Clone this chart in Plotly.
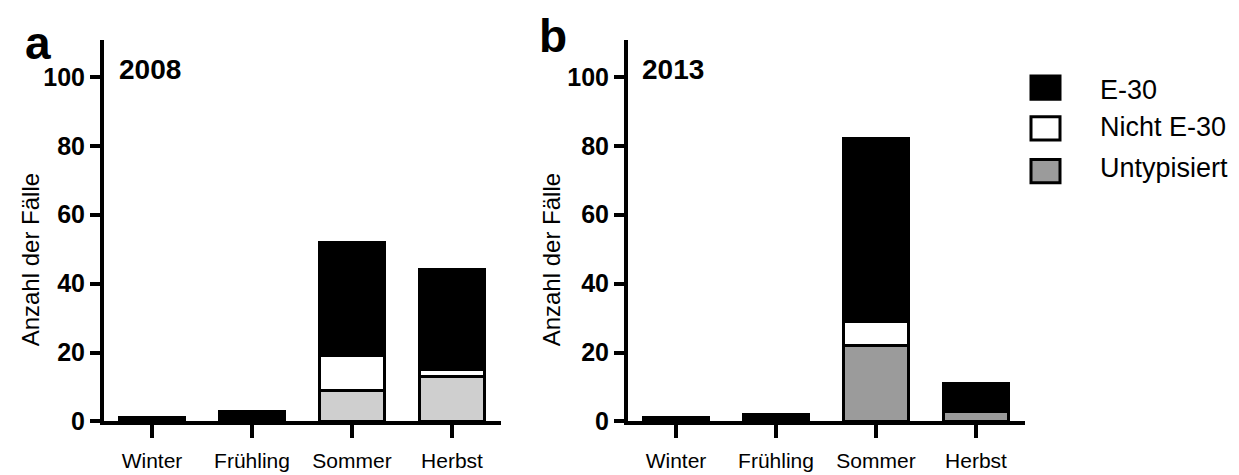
import plotly.graph_objects as go

# ---------------- data ----------------
seasons = ["Winter", "Frühling", "Sommer", "Herbst"]
series_names = ["E-30", "Nicht E-30", "Untypisiert"]

e30_2008 = [1, 3, 33, 29]
nicht_2008 = [0, 0, 10, 2]
untyp_2008 = [0, 0, 9, 13]

e30_2013 = [1, 2, 53, 8]
nicht_2013 = [0, 0, 7, 0]
untyp_2013 = [0, 0, 22, 3]

y_ticks = [0, 20, 40, 60, 80, 100]
panel_labels = ["a", "b"]
years = ["2008", "2013"]

# ---------------- style ----------------
W, H = 1239, 475
BOLD = "Liberation Sans, Arial, sans-serif"
REG = "Liberation Sans, Arial, sans-serif"
col_e30 = "#000000"
col_nicht = "#ffffff"
col_untyp_a = "#cfcfcf"
col_untyp_b = "#9b9b9b"


def px(x):
    return x / W


def py(y):
    return 1 - y / H


fig = go.Figure()

panels = [
    ("x", "y", untyp_2008, nicht_2008, e30_2008, col_untyp_a),
    ("x2", "y2", untyp_2013, nicht_2013, e30_2013, col_untyp_b),
]
for xa, ya, u, n, e, gcol in panels:
    for name, vals, col in [("Untypisiert", u, gcol), ("Nicht E-30", n, col_nicht), ("E-30", e, col_e30)]:
        fig.add_trace(go.Bar(
            x=seasons, y=vals, name=name, xaxis=xa, yaxis=ya,
            marker=dict(color=col, line=dict(color="black", width=3)),
            showlegend=False,
        ))

axis_common = dict(showgrid=False, zeroline=False, showline=True, linecolor="black",
                   linewidth=4, ticks="outside", tickcolor="black", tickwidth=4)

xfont = dict(family=REG, size=21, color="black")
yfont = dict(family=BOLD, size=25, color="black", weight="bold")
ydom = [py(426), py(33)]
fig.update_layout(
    width=W, height=H,
    margin=dict(l=0, r=0, t=0, b=0),
    paper_bgcolor="white", plot_bgcolor="white",
    barmode="stack", bargap=0.35,
    showlegend=False,
    xaxis=dict(domain=[px(96), px(493)], range=[-0.48, 3.49], anchor="y",
               ticklen=13, tickfont=xfont, ticklabelstandoff=4, **axis_common),
    xaxis2=dict(domain=[px(620), px(1017)], range=[-0.48, 3.49], anchor="y2",
                ticklen=13, tickfont=xfont, ticklabelstandoff=4, **axis_common),
    yaxis=dict(domain=ydom, range=[0, 110.7], anchor="x", tickvals=y_ticks, ticklen=10,
               tickfont=yfont, ticklabelstandoff=0, **axis_common),
    yaxis2=dict(domain=ydom, range=[0, 110.7], anchor="x2", tickvals=y_ticks, ticklen=10,
                tickfont=yfont, ticklabelstandoff=0, **axis_common),
)

annotations = []
# y-axis titles
for xc in [22, 543]:
    annotations.append(dict(text="Anzahl der Fälle", x=px(xc), y=py(260), xref="paper", yref="paper",
                            textangle=-90, showarrow=False, xanchor="center", yanchor="middle",
                            font=dict(family=REG, size=24, color="black")))
# panel letters
for lab, xc, yt in zip(panel_labels, [30, 545], [7, 0]):
    annotations.append(dict(text=lab, x=px(xc), y=py(yt), xref="paper", yref="paper",
                            showarrow=False, xanchor="center", yanchor="top",
                            font=dict(family=BOLD, size=46, color="black", weight="bold")))
# years
for yr, xc in zip(years, [142, 665]):
    annotations.append(dict(text=yr, x=px(xc), y=py(63), xref="paper", yref="paper",
                            showarrow=False, xanchor="center", yanchor="middle",
                            font=dict(family=BOLD, size=28, color="black", weight="bold")))

# manual legend
shapes = []
leg_colors = [col_e30, col_nicht, col_untyp_b]
leg_y = [82, 124, 168]
text_y = [85, 123, 165]
for name, col, yc, ty in zip(series_names, leg_colors, leg_y, text_y):
    shapes.append(dict(type="rect", xref="paper", yref="paper",
                       x0=px(1023), x1=px(1052), y0=py(yc + 12), y1=py(yc - 12),
                       fillcolor=col, line=dict(color="black", width=3)))
    annotations.append(dict(text=name, x=px(1090), y=py(ty), xref="paper", yref="paper",
                            showarrow=False, xanchor="left", yanchor="middle",
                            font=dict(family=REG, size=27, color="black")))

fig.update_layout(annotations=annotations, shapes=shapes)

fig.write_html("out.html")
